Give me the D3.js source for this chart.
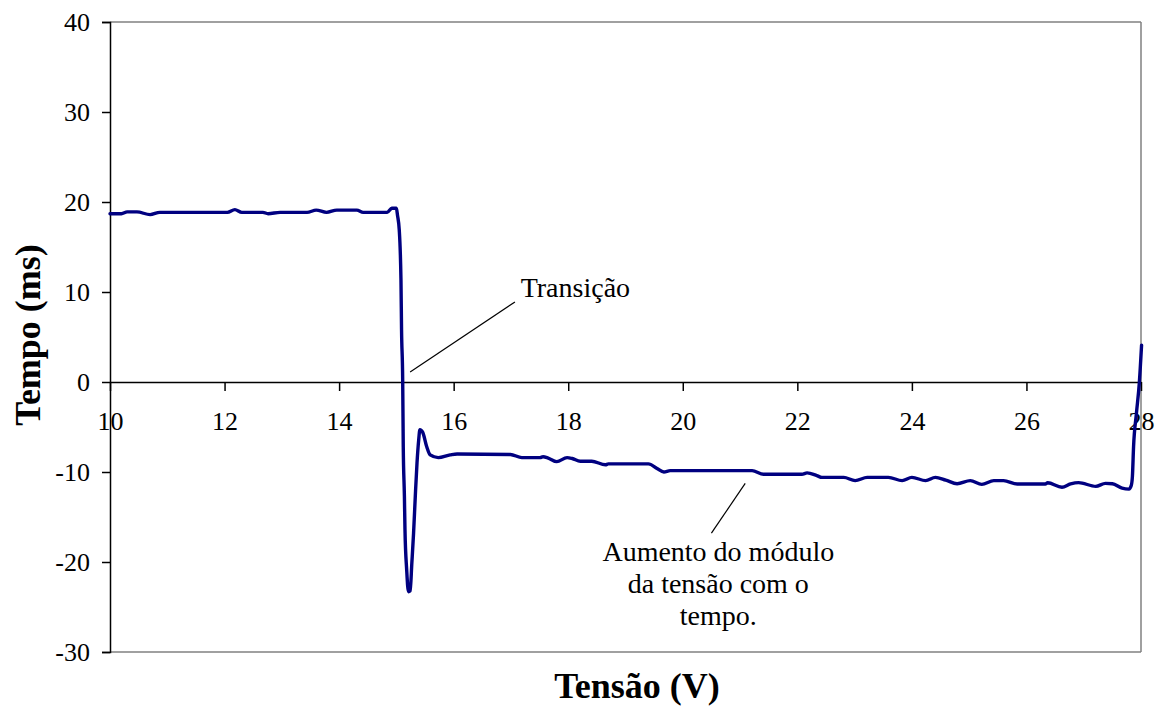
<!DOCTYPE html>
<html>
<head>
<meta charset="utf-8">
<script src="https://cdn.jsdelivr.net/npm/d3@7"></script>
<style>
  html, body { margin: 0; padding: 0; background: #fff; }
  svg { display: block; }
  text { font-family: "Liberation Serif", "Times New Roman", serif; fill: #000; }
</style>
</head>
<body>
<svg id="chart" width="1164" height="708"></svg>
<script>
// Data (Tensão in V, Tempo in ms)
const tensao = [10.0, 10.2, 10.3, 10.47, 10.7, 10.87, 12.05, 12.18, 12.3, 12.67, 12.76, 12.97, 13.44, 13.6, 13.78, 13.96, 14.31, 14.42, 14.84, 14.92, 15.0,
  15.02, 15.05, 15.08, 15.09, 15.11, 15.12, 15.14, 15.15, 15.18, 15.21, 15.24, 15.27, 15.30, 15.33, 15.36, 15.39, 15.41, 15.46, 15.53, 15.59, 15.73, 15.94,
  16.06, 16.99, 17.19, 17.51, 17.56, 17.65, 17.80, 17.98, 18.07, 18.21, 18.41, 18.65, 18.7, 19.40, 19.55, 19.67, 19.78, 21.21, 21.41, 22.08, 22.17, 22.34,
  22.43, 22.81, 23.01, 23.22, 23.59, 23.83, 24.0, 24.24, 24.41, 24.59, 24.79, 25.02, 25.22, 25.43, 25.60, 25.84, 26.33, 26.37, 26.62, 26.77, 26.91, 27.21,
  27.38, 27.5, 27.67, 27.79, 27.83, 27.85, 27.87, 27.92, 27.97, 28.01];
const tempo = [18.7, 18.7, 18.9, 18.9, 18.6, 18.85, 18.85, 19.15, 18.85, 18.85, 18.7, 18.85, 18.85, 19.1, 18.85, 19.1, 19.1, 18.85, 18.85, 19.3, 19.3,
  18.5, 16.9, 11.3, 5.8, 0.2, -7.2, -12.7, -16.4, -20.9, -23.3, -23.2, -20.1, -16.8, -12.7, -9.0, -6.4, -5.3, -5.6, -7.2, -8.1, -8.4, -8.1,
  -8.0, -8.05, -8.4, -8.4, -8.3, -8.45, -8.85, -8.4, -8.5, -8.8, -8.8, -9.2, -9.1, -9.1, -9.6, -10.0, -9.85, -9.85, -10.25, -10.25, -10.1, -10.4,
  -10.6, -10.6, -10.96, -10.6, -10.6, -10.96, -10.6, -10.96, -10.6, -10.9, -11.3, -10.96, -11.37, -10.96, -10.96, -11.33, -11.33, -11.2, -11.7, -11.33, -11.18, -11.6,
  -11.26, -11.3, -11.8, -11.9, -11.5, -10.5, -7.2, -3.5, -0.15, 4.1];

const xTicks = [10, 12, 14, 16, 18, 20, 22, 24, 26, 28];
const yTicks = [-30, -20, -10, 0, 10, 20, 30, 40];
const xTitle = "Tensão (V)";
const yTitle = "Tempo (ms)";

// Annotations (data units)
const annTransicao = { text: ["Transição"], from: [15.24, 1.1], to: [17.07, 8.9], at: [17.17, 9.5], anchor: "start" };
const annAumento = { text: ["Aumento do módulo", "da tensão com o", "tempo."], from: [21.09, -11.26], to: [20.50, -16.8], at: [20.62, -19.86], anchor: "middle" };

const W = 1164, H = 708;
const m = { left: 110, right: 1164 - 1141, top: 22, bottom: 708 - 652 };
const svg = d3.select("#chart");

const x = d3.scaleLinear().domain([10, 28]).range([m.left, W - m.right]);
const y = d3.scaleLinear().domain([-30, 40]).range([H - m.bottom, m.top]);

// plot area border (gray top/right/bottom)
const g = svg.append("g");
g.append("line").attr("x1", x(10)).attr("x2", x(28)).attr("y1", y(40)).attr("y2", y(40)).attr("stroke", "#808080").attr("stroke-width", 1.5);
g.append("line").attr("x1", x(28)).attr("x2", x(28)).attr("y1", y(40)).attr("y2", y(-30)).attr("stroke", "#808080").attr("stroke-width", 1.5);
g.append("line").attr("x1", x(10)).attr("x2", x(28)).attr("y1", y(-30)).attr("y2", y(-30)).attr("stroke", "#808080").attr("stroke-width", 1.5);

// Y axis
const yAxis = d3.axisLeft(y).tickValues(yTicks).tickSize(8).tickPadding(12).tickFormat(d => String(d));
const gy = svg.append("g").attr("transform", `translate(${x(10)},0)`).call(yAxis);
gy.select(".domain").attr("stroke", "#000").attr("stroke-width", 1.5);
gy.selectAll(".tick line").attr("stroke", "#000").attr("stroke-width", 1.5);
gy.selectAll(".tick text").attr("font-size", 26).attr("font-family", "Liberation Serif, Times New Roman, serif").attr("fill", "#000");

// X axis at y=0
const xAxis = d3.axisBottom(x).tickValues(xTicks).tickSize(9).tickSizeOuter(0).tickFormat(d => String(d));
const gx = svg.append("g").attr("transform", `translate(0,${y(0)})`).call(xAxis);
gx.select(".domain").attr("stroke", "#000").attr("stroke-width", 1.5);
gx.selectAll(".tick line").attr("stroke", "#000").attr("stroke-width", 1.5);
gx.selectAll(".tick text").attr("font-size", 26).attr("font-family", "Liberation Serif, Times New Roman, serif")
  .attr("fill", "#000").attr("y", 48).attr("dy", 0);

// Series line
const pts = tensao.map((v, i) => [v, tempo[i]]);
const line = d3.line().x(d => x(d[0])).y(d => y(d[1])).curve(d3.curveMonotoneX);
svg.append("path").datum(pts).attr("d", line).attr("fill", "none").attr("stroke", "#000080")
  .attr("stroke-width", 3.4).attr("stroke-linejoin", "round").attr("stroke-linecap", "round");

// Annotations
function annotate(a) {
  svg.append("line").attr("x1", x(a.from[0])).attr("y1", y(a.from[1])).attr("x2", x(a.to[0])).attr("y2", y(a.to[1]))
    .attr("stroke", "#000").attr("stroke-width", 1.2);
  const t = svg.append("text").attr("font-size", 28).attr("text-anchor", a.anchor);
  a.text.forEach((s, i) => {
    t.append("tspan").attr("x", x(a.at[0])).attr("y", y(a.at[1]) + i * 32).text(s);
  });
}
annotate(annTransicao);
annotate(annAumento);

// Axis titles
svg.append("text").attr("x", 637).attr("y", 698).attr("text-anchor", "middle")
  .attr("font-size", 36).attr("font-weight", "bold").text(xTitle);
svg.append("text").attr("transform", `translate(40,335) rotate(-90)`).attr("text-anchor", "middle")
  .attr("font-size", 36).attr("font-weight", "bold").text(yTitle);
</script>
</body>
</html>
